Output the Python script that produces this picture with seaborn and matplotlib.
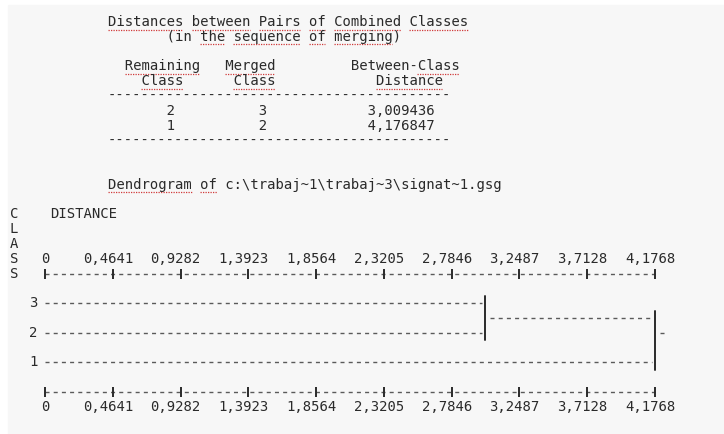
import re
import numpy as np
import pandas as pd
import matplotlib
matplotlib.use("Agg")
import matplotlib.pyplot as plt
import seaborn as sns
from matplotlib.patches import Rectangle
from matplotlib.lines import Line2D

# ---------------- data ----------------
leaf_classes = [3, 2, 1]                 # dendrogram order, top to bottom
remaining_class = [2, 1]
merged_class = [3, 2]
merge_distance = [3.009436, 4.176847]
tick_values = [0, 0.4641, 0.9282, 1.3923, 1.8564, 2.3205, 2.7846, 3.2487, 3.7128, 4.1768]
tick_labels = ["0", "0,4641", "0,9282", "1,3923", "1,8564", "2,3205",
               "2,7846", "3,2487", "3,7128", "4,1768"]
source_file = r"c:\trabaj~1\trabaj~3\signat~1.gsg"

# ---------------- setup ----------------
W, H = 724, 434
sns.set_theme(style="white")
plt.rcParams['font.family'] = ['DejaVu Sans Mono']
fig = plt.figure(figsize=(W / 100, H / 100), dpi=100)
fig.patch.set_facecolor('white')
fig.patches.append(Rectangle((8 / W, 0), 1, 1 - 5 / H, transform=fig.transFigure,
                             color='#f7f7f7', zorder=-10))
ax = fig.add_axes([0, 0, 1, 1])
ax.set_axis_off()
ax.patch.set_alpha(0)

X0, XS = 45, 610 / 4.1768          # pixel of distance 0, pixels per distance unit
Y0, YS = 392, 29.6                 # pixel of class row 0, pixels per row
ax.set_xlim(-X0 / XS, (W - X0) / XS)
ax.set_ylim((Y0 - H) / YS, Y0 / YS)

LINE0, PITCH = 22, 14.8
def ly(n):
    return LINE0 + PITCH * n
def yrow(n):
    return (Y0 - ly(n)) / YS

FS = 10
CW = 0.602 * FS * 100 / 72
TXT = '#2a2a2a'
DASH = (0, (2.9, 3.0))
DASHC = '#5a5a5a'
BAR = '#2a2a2a'

def ptext(x, y, s, ha='left'):
    fig.text(x / W, 1 - y / H, s, ha=ha, va='center', fontsize=FS, color=TXT,
             family='DejaVu Sans Mono')

def underline(x, y, s, words):
    for w in words:
        for m in re.finditer(r'(?<![A-Za-z])' + re.escape(w) + r'(?![A-Za-z])', s):
            xa = x + m.start() * CW
            xb = x + m.end() * CW
            fig.add_artist(Line2D([xa / W, xb / W], [1 - (y + 7.5) / H] * 2,
                                  transform=fig.transFigure, color='#d03a3a',
                                  lw=0.9, ls=(0, (1, 1))))

def fmt(v):
    return f"{v:.6f}".replace('.', ',')

# ---------------- table text ----------------
XT = 108
lines = {
    0: ("Distances between Pairs of Combined Classes",
        ["Distances", "between", "Pairs", "of", "Combined", "Classes"]),
    1: ("       (in the sequence of merging)", ["the", "sequence", "of", "merging"]),
    3: ("  Remaining   Merged         Between-Class", ["Remaining", "Merged", "Class"]),
    4: ("    Class      Class            Distance", ["Class", "Distance"]),
    5: ("-" * 41, []),
    8: ("-" * 41, []),
    11: ("Dendrogram of " + source_file, ["Dendrogram", "of"]),
}
for i, (r, m, d) in enumerate(zip(remaining_class, merged_class, merge_distance)):
    lines[6 + i] = (f"{r:>8}{m:>11}{fmt(d):>20}", [])
for n, (s, words) in lines.items():
    ptext(XT, ly(n), s)
    underline(XT, ly(n), s, words)

# CLASS vertical label and DISTANCE
for k, ch in enumerate("CLASS"):
    ptext(14, ly(13 + k), ch, ha='center')
ptext(50, ly(13), "DISTANCE")

# ---------------- dendrogram ----------------
nleaf = len(leaf_classes)
leaf_y = {c: nleaf - i for i, c in enumerate(leaf_classes)}
node_y = dict(leaf_y)
node_x = {c: 0.0 for c in leaf_classes}
hsegs, vsegs = [], []
sid = 0
for r, m, d in zip(remaining_class, merged_class, merge_distance):
    yr, ym = node_y[r], node_y[m]
    for c, yy in ((r, yr), (m, ym)):
        hsegs += [dict(seg=sid, x=node_x[c], y=yy), dict(seg=sid, x=d - 0.02, y=yy)]
        sid += 1
    lo, hi = min(yr, ym), max(yr, ym)
    vsegs += [dict(seg=sid, x=d, y=lo - 0.25), dict(seg=sid, x=d, y=hi + 0.25)]
    sid += 1
    # new node sits on the half-row grid of the text output
    node_y[r] = np.ceil((yr + ym) / 2.0 * 2) / 2.0
    node_x[r] = d + 0.04
root = remaining_class[-1]
hsegs += [dict(seg=sid, x=merge_distance[-1] + 0.035, y=node_y[root]),
          dict(seg=sid, x=merge_distance[-1] + 0.075, y=node_y[root])]

hdf = pd.DataFrame(hsegs)
vdf = pd.DataFrame(vsegs)
sns.lineplot(data=hdf, x='x', y='y', units='seg', estimator=None, sort=False,
             color=DASHC, lw=1.0, linestyle=DASH, legend=False, ax=ax)
sns.lineplot(data=vdf, x='x', y='y', units='seg', estimator=None, sort=False,
             color=BAR, lw=1.4, legend=False, ax=ax)

for c, yy in leaf_y.items():
    ax.text(-12 / XS, yy, str(c), ha='center', va='center', fontsize=FS,
            color=TXT, family='DejaVu Sans Mono')

# ---------------- rulers ----------------
for yr_line, ylab in ((nleaf + 1, yrow(16)), (0, yrow(26))):
    rdf = pd.DataFrame(dict(x=[tick_values[0], tick_values[-1]], y=[yr_line] * 2))
    sns.lineplot(data=rdf, x='x', y='y', estimator=None, sort=False,
                 color=DASHC, lw=1.0, linestyle=DASH, legend=False, ax=ax)
    ax.vlines(tick_values, yr_line - 0.17, yr_line + 0.17, color=BAR, lw=1.4)
    for v, lab in zip(tick_values, tick_labels):
        off = 0 if v == 0 else 5 / XS
        ax.text(v - off, ylab, lab, ha='center', va='center', fontsize=FS,
                color=TXT, family='DejaVu Sans Mono')

ax.set_xlabel('')
ax.set_ylabel('')
fig.savefig("out.png", dpi=100, facecolor=fig.get_facecolor())
